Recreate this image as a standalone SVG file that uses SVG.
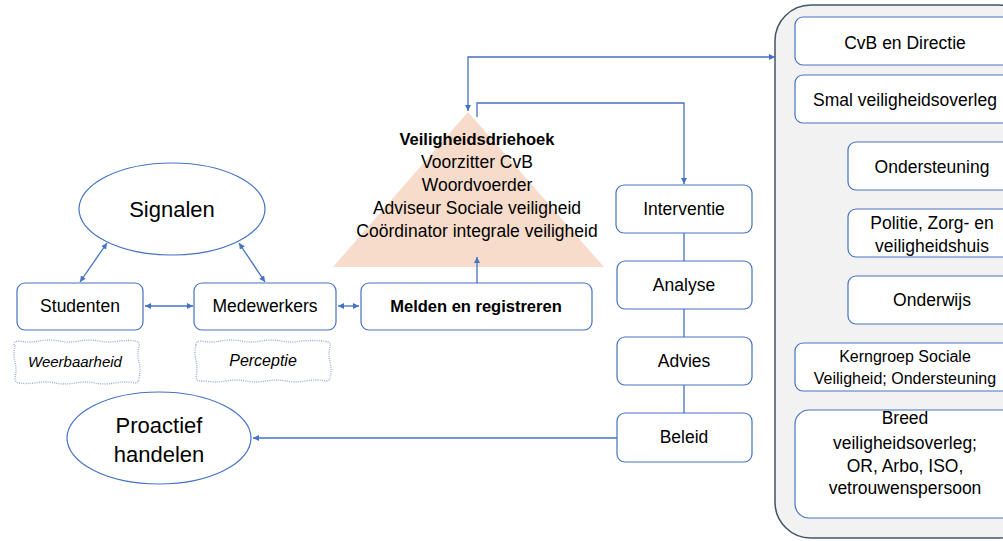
<svg xmlns="http://www.w3.org/2000/svg" width="1003" height="541" viewBox="0 0 1003 541">
<defs>
<marker id="ah" viewBox="0 0 10 10" refX="10" refY="5" markerWidth="6" markerHeight="6" orient="auto-start-reverse" markerUnits="userSpaceOnUse">
<path d="M0,0 L10,5 L0,10 Z" fill="#4472c4"/>
</marker>
<style>
.box{fill:#fff;stroke:#4472c4;stroke-width:1.2}
.ell{fill:#fff;stroke:#4472c4;stroke-width:1.2}
.dot{fill:#fff;stroke:#8faadc;stroke-width:1.3;stroke-dasharray:1 1.2}
.ln{fill:none;stroke:#4472c4;stroke-width:1.3}
.t{font-family:"Liberation Sans",Arial,sans-serif;font-size:17.5px;fill:#000;text-anchor:middle}
.b{font-weight:bold;font-size:16.5px}
.i{font-style:italic;font-size:15px}
.big{font-size:22px}
.sm{font-size:16px}
</style>
</defs>
<rect width="1003" height="541" fill="#fff"/>

<g id="container">
<rect x="775" y="5" width="260" height="533" rx="36" ry="36" fill="#f2f2f2" stroke="#44546a" stroke-width="1.5"/>
</g>

<g id="triangle">
<polygon points="468,112 333,267 604,267" fill="#f8dccb"/>
<text class="t b" x="477" y="145">Veiligheidsdriehoek</text>
<text class="t" x="477" y="168">Voorzitter CvB</text>
<text class="t" x="477" y="191">Woordvoerder</text>
<text class="t" x="477" y="214">Adviseur Sociale veiligheid</text>
<text class="t" x="477" y="237">Coördinator integrale veiligheid</text>
</g>

<g id="connectors">
<line class="ln" x1="107" y1="243" x2="80" y2="282" marker-start="url(#ah)" marker-end="url(#ah)"/>
<line class="ln" x1="239" y1="243" x2="265" y2="282" marker-start="url(#ah)" marker-end="url(#ah)"/>
<line class="ln" x1="145" y1="306" x2="193" y2="306" marker-start="url(#ah)" marker-end="url(#ah)"/>
<line class="ln" x1="338" y1="306" x2="359" y2="306" marker-start="url(#ah)" marker-end="url(#ah)"/>
<line class="ln" x1="477" y1="283" x2="477" y2="257" marker-end="url(#ah)"/>
<polyline class="ln" points="468,111 468,57 775,57" marker-start="url(#ah)" marker-end="url(#ah)"/>
<polyline class="ln" points="477,117 477,103 684,103 684,184" marker-end="url(#ah)"/>
<line class="ln" x1="684" y1="233" x2="684" y2="261"/>
<line class="ln" x1="684" y1="309" x2="684" y2="337"/>
<line class="ln" x1="684" y1="385" x2="684" y2="413"/>
<line class="ln" x1="617" y1="438" x2="253" y2="438" marker-end="url(#ah)"/>
</g>

<g id="signalen">
<ellipse class="ell" cx="172" cy="209" rx="93" ry="46"/>
<text class="t big" x="172" y="217">Signalen</text>
</g>
<g id="studenten">
<rect class="box" x="17" y="283" width="126" height="47" rx="8"/>
<text class="t" x="80" y="312">Studenten</text>
</g>
<g id="medewerkers">
<rect class="box" x="194" y="283" width="142" height="47" rx="8"/>
<text class="t" x="265" y="312">Medewerkers</text>
</g>
<g id="weerbaarheid">
<path class="dot" d="M14,345 q0,-4 5,-4 q10,2 20,0 q10,-2 20,0 q10,2 20,0 q10,-2 20,0 q10,2 20,0 q10,-1 16,0 q5,0 4,5 q-2,8 0,16 q2,8 0,16 q0,5 -4,5 q-10,-2 -20,0 q-10,2 -20,0 q-10,-2 -20,0 q-10,2 -20,0 q-10,-2 -20,0 q-10,1 -15,0 q-5,0 -5,-5 q2,-8 0,-16 q-2,-8 0,-16 Z"/>
<text class="t i" x="75" y="367">Weerbaarheid</text>
</g>
<g id="perceptie">
<path class="dot" d="M196,345 q0,-4 5,-4 q10,2 20,0 q10,-2 20,0 q10,2 20,0 q10,-2 20,0 q10,2 20,0 q10,-1 20,0 q5,0 6,1 q4,0 3,4 q-2,8 0,16 q2,8 0,15 q0,4 -4,4 q-10,-2 -20,0 q-10,2 -20,0 q-10,-2 -20,0 q-10,2 -20,0 q-10,-2 -20,0 q-10,2 -20,0 q-5,0 -6,0 q-4,0 -4,-4 q2,-8 0,-16 q-2,-8 0,-16 Z"/>
<text class="t i" x="263" y="366" style="font-size:16px">Perceptie</text>
</g>
<g id="melden">
<rect class="box" x="361" y="283" width="231" height="47" rx="8"/>
<text class="t b" x="476" y="312">Melden en registreren</text>
</g>
<g id="proactief">
<ellipse class="ell" cx="159" cy="438" rx="92" ry="46"/>
<text class="t big" x="159" y="433">Proactief</text>
<text class="t big" x="159" y="462">handelen</text>
</g>

<g id="interventie">
<rect class="box" x="616" y="185" width="136" height="48" rx="8"/>
<text class="t" x="684" y="215">Interventie</text>
</g>
<g id="analyse">
<rect class="box" x="617" y="261" width="135" height="48" rx="8"/>
<text class="t" x="684" y="291">Analyse</text>
</g>
<g id="advies">
<rect class="box" x="617" y="337" width="135" height="48" rx="8"/>
<text class="t" x="684" y="367">Advies</text>
</g>
<g id="beleid">
<rect class="box" x="617" y="413" width="135" height="49" rx="8"/>
<text class="t" x="684" y="443">Beleid</text>
</g>

<g id="cvb">
<rect class="box" x="795" y="17" width="224" height="48" rx="8"/>
<text class="t" x="905" y="49">CvB en Directie</text>
</g>
<g id="smal">
<rect class="box" x="795" y="75" width="224" height="48" rx="8"/>
<text class="t" x="905" y="106">Smal veiligheidsoverleg</text>
</g>
<g id="ondersteuning">
<rect class="box" x="848" y="142" width="172" height="48" rx="8"/>
<text class="t" x="932" y="173">Ondersteuning</text>
</g>
<g id="politie">
<rect class="box" x="848" y="209" width="172" height="48" rx="8"/>
<text class="t" x="932" y="229">Politie, Zorg- en</text>
<text class="t" x="932" y="252">veiligheidshuis</text>
</g>
<g id="onderwijs">
<rect class="box" x="848" y="276" width="172" height="48" rx="8"/>
<text class="t" x="932" y="306">Onderwijs</text>
</g>
<g id="kerngroep">
<rect class="box" x="795" y="343" width="224" height="48" rx="8"/>
<text class="t sm" x="905" y="362">Kerngroep Sociale</text>
<text class="t sm" x="905" y="384">Veiligheid; Ondersteuning</text>
</g>
<g id="breed">
<rect class="box" x="795" y="410" width="224" height="108" rx="14"/>
<text class="t" x="905" y="424">Breed</text>
<text class="t" x="905" y="449">veiligheidsoverleg;</text>
<text class="t" x="905" y="472">OR, Arbo, ISO,</text>
<text class="t" x="905" y="494">vetrouwenspersoon</text>
</g>
</svg>
